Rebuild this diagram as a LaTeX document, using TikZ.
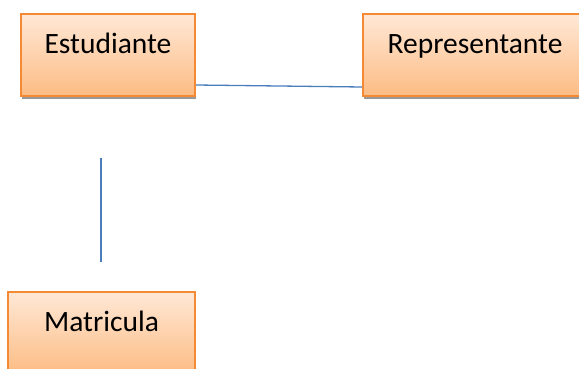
\documentclass[tikz,border=0pt]{standalone}
\usepackage{fontspec}
\setmainfont{Carlito}
\usetikzlibrary{shadows}
\definecolor{boxedge}{HTML}{F58A35}
\definecolor{boxtop}{HTML}{FFE8D6}
\definecolor{boxbottom}{HTML}{FCBC84}
\definecolor{linkblue}{HTML}{4A7EBB}
\begin{document}
\begin{tikzpicture}[x=1pt,y=1pt,
  entity/.style={draw=boxedge, line width=1.6pt, rectangle, inner sep=0pt,
    top color=boxtop, bottom color=boxbottom,
    minimum height=82pt, text height=39pt, text depth=43pt, align=center,
    font=\fontsize{29.5}{34}\selectfont,
    drop shadow={shadow xshift=1pt, shadow yshift=-3pt, fill=black!40, opacity=1}},
  link/.style={draw=linkblue, line width=1.3pt}]
\useasboundingbox (0,0) rectangle (579,368);
\begin{scope}
\clip (0,0) rectangle (579,368);
\node[entity, minimum width=174pt] (est) at (108,313) {Estudiante};
\node[entity, minimum width=224pt] (rep) at (475,313) {Representante};
\node[entity, minimum width=187pt] (mat) at (101.5,35) {Matricula};
\end{scope}
% relation between student and representative
\draw[link] (est.east |- 0,283) -- (rep.west |- 0,281);
% dangling relation towards enrolment
\coordinate (vtop) at (101,210);
\coordinate (vbot) at (101,106);
\draw[link] (vtop) -- (vbot);
\end{tikzpicture}
\end{document}
